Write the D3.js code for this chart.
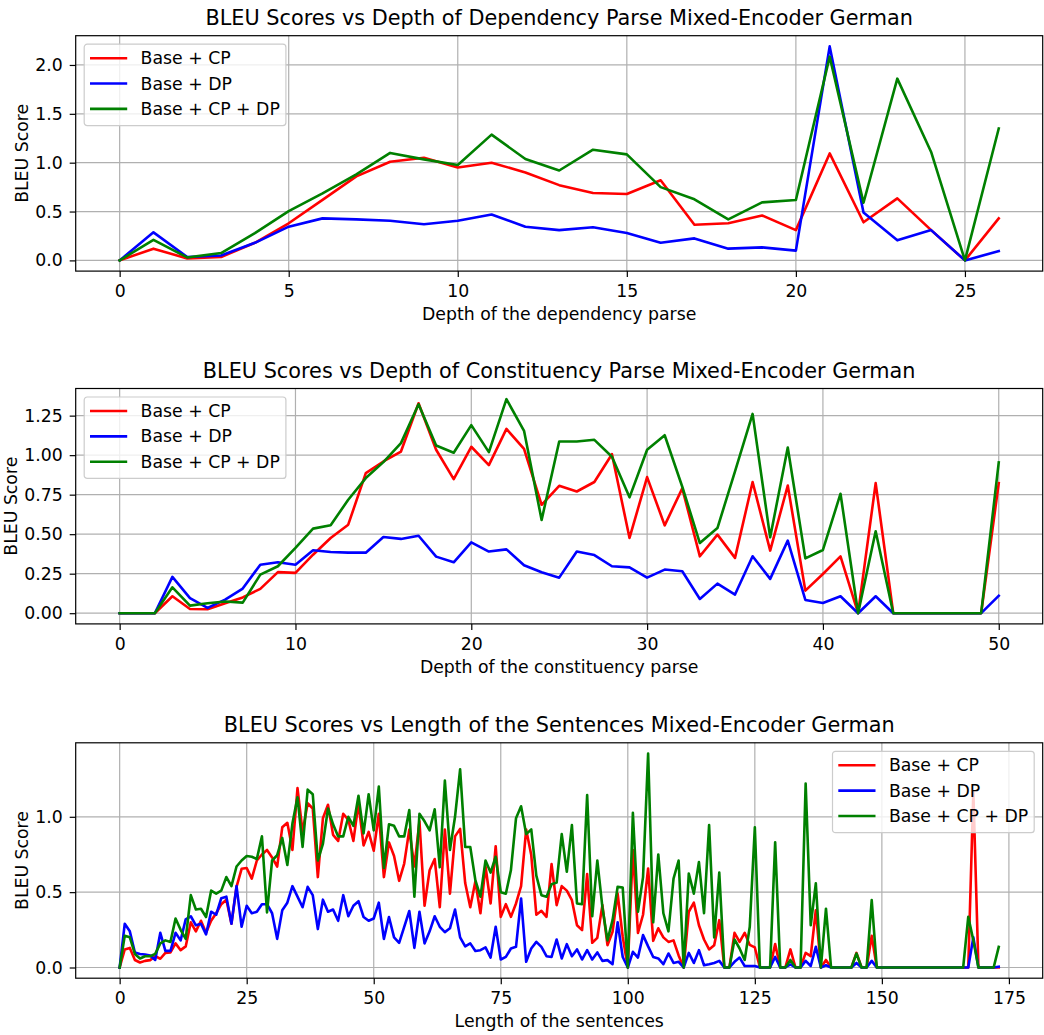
<!DOCTYPE html>
<html><head><meta charset="utf-8">
<script src="https://cdn.jsdelivr.net/npm/d3@7"></script>
<style>
body{margin:0;background:#fff}
svg{display:block}
text{font-family:"DejaVu Sans",sans-serif;fill:#000}
</style>
</head><body>
<svg id="chart" width="1044" height="1035"></svg>
<script>
// ---------- DATA ----------
const seriesNames = ["Base + CP", "Base + DP", "Base + CP + DP"];
const seriesColors = ["#ff0000", "#0000ff", "#008000"];

const titles = [
  "BLEU Scores vs Depth of Dependency Parse Mixed-Encoder German",
  "BLEU Scores vs Depth of Constituency Parse Mixed-Encoder German",
  "BLEU Scores vs Length of the Sentences Mixed-Encoder German"
];
const xLabels = ["Depth of the dependency parse", "Depth of the constituency parse", "Length of the sentences"];
const yLabel = "BLEU Score";

const xTicks1 = [0, 5, 10, 15, 20, 25];
const yTicks1 = [0, 0.5, 1.0, 1.5, 2.0];
const xTicks2 = [0, 10, 20, 30, 40, 50];
const yTicks2 = [0, 0.25, 0.5, 0.75, 1.0, 1.25];
const xTicks3 = [0, 25, 50, 75, 100, 125, 150, 175];
const yTicks3 = [0, 0.5, 1.0];

// Panel 1: depth of dependency parse (0..26)
const dep_cp   = [0, 0.12, 0.02, 0.035, 0.18, 0.38, 0.62, 0.86, 1.01, 1.05, 0.95, 1.00, 0.90, 0.77, 0.69, 0.68, 0.82, 0.365, 0.38, 0.46, 0.31, 1.095, 0.39, 0.635, 0.31, 0, 0.43];
const dep_dp   = [0, 0.287, 0.035, 0.05, 0.18, 0.345, 0.43, 0.42, 0.405, 0.37, 0.405, 0.47, 0.345, 0.31, 0.34, 0.28, 0.18, 0.225, 0.12, 0.133, 0.10, 2.19, 0.49, 0.205, 0.31, 0, 0.095];
const dep_cpdp = [0, 0.21, 0.03, 0.075, 0.28, 0.505, 0.686, 0.88, 1.10, 1.034, 0.976, 1.287, 1.037, 0.92, 1.133, 1.085, 0.75, 0.625, 0.42, 0.594, 0.618, 2.085, 0.59, 1.86, 1.11, 0, 1.35];

// Panel 2: depth of constituency parse (0..50)
const con_cp   = [0, 0, 0, 0.107, 0.027, 0.025, 0.063, 0.10, 0.154, 0.26, 0.255, 0.37, 0.476, 0.56, 0.886, 0.96, 1.023, 1.328, 1.034, 0.848, 1.053, 0.937, 1.166, 1.04, 0.686, 0.806, 0.77, 0.83, 1.006, 0.476, 0.861, 0.556, 0.79, 0.36, 0.497, 0.35, 0.83, 0.396, 0.808, 0.143, 0.248, 0.36, 0, 0.823, 0, 0, 0, 0, 0, 0, 0.823];
const con_dp   = [0, 0, 0, 0.23, 0.095, 0.034, 0.086, 0.156, 0.307, 0.322, 0.307, 0.398, 0.387, 0.383, 0.383, 0.482, 0.47, 0.49, 0.358, 0.322, 0.448, 0.39, 0.404, 0.303, 0.259, 0.225, 0.39, 0.368, 0.297, 0.29, 0.225, 0.276, 0.265, 0.09, 0.187, 0.118, 0.36, 0.217, 0.459, 0.084, 0.065, 0.107, 0, 0.107, 0, 0, 0, 0, 0, 0, 0.11];
const con_cpdp = [0, 0, 0, 0.164, 0.048, 0.063, 0.074, 0.067, 0.244, 0.297, 0.413, 0.535, 0.556, 0.718, 0.855, 0.956, 1.076, 1.322, 1.061, 1.015, 1.19, 1.019, 1.354, 1.154, 0.59, 1.086, 1.086, 1.097, 0.99, 0.733, 1.034, 1.126, 0.80, 0.444, 0.539, 0.897, 1.261, 0.48, 1.048, 0.347, 0.40, 0.756, 0, 0.518, 0, 0, 0, 0, 0, 0, 0.954];

// Panel 3: length of the sentences (0..173)
const len_cp = [
  0, 0.12, 0.13, 0.05, 0.033, 0.044, 0.049, 0.075, 0.058, 0.097,
  0.10, 0.16, 0.115, 0.14, 0.30, 0.24, 0.31, 0.23, 0.31, 0.36,
  0.42, 0.45, 0.29, 0.535, 0.655, 0.66, 0.59, 0.71, 0.75, 0.78,
  0.73, 0.67, 0.93, 0.96, 0.78, 1.19, 0.90, 1.09, 1.055, 0.60,
  0.99, 1.08, 0.88, 0.84, 1.02, 0.98, 0.84, 1.09, 0.81, 0.90,
  0.775, 1.02, 0.60, 0.83, 0.74, 0.575, 0.69, 0.915, 0.67, 0.97,
  0.41, 0.645, 0.72, 0.40, 0.915, 0.49, 0.87, 0.92, 0.56, 0.40,
  0.57, 0.36, 0.67, 0.425, 0.805, 0.336, 0.42, 0.336, 0.425, 0.54,
  0.916, 0.746, 0.35, 0.376, 0.336, 0.686, 0.414, 0.54, 0.51, 0.447,
  0.28, 0.248, 0.62, 0.164, 0.197, 0.414, 0.148, 0.237, 0.49, 0.204,
  0, 0.78, 0.23, 0.35, 0.657, 0.177, 0.26, 0.20, 0.17, 0.18,
  0.08, 0, 0.37, 0.43, 0.28, 0.186, 0.12, 0.148, 0.314, 0,
  0, 0.23, 0.17, 0.23, 0.15, 0.133, 0, 0, 0, 0.155,
  0, 0, 0.12, 0, 0, 0.097, 0.075, 0.38, 0, 0.05,
  0, 0, 0, 0, 0, 0.097, 0, 0, 0.21, 0,
  0, 0, 0, 0, 0, 0, 0, 0, 0, 0,
  0, 0, 0, 0, 0, 0, 0, 0, 1.166, 0,
  0, 0, 0, 0
];
const len_dp = [
  0, 0.29, 0.24, 0.10, 0.09, 0.086, 0.08, 0.05, 0.23, 0.11,
  0.11, 0.23, 0.18, 0.32, 0.34, 0.28, 0.29, 0.22, 0.37, 0.35,
  0.46, 0.47, 0.29, 0.54, 0.27, 0.41, 0.36, 0.37, 0.42, 0.42,
  0.36, 0.19, 0.38, 0.43, 0.54, 0.47, 0.40, 0.535, 0.48, 0.255,
  0.45, 0.37, 0.385, 0.31, 0.48, 0.34, 0.41, 0.44, 0.335, 0.31,
  0.325, 0.43, 0.19, 0.335, 0.20, 0.164, 0.27, 0.375, 0.13, 0.37,
  0.16, 0.24, 0.34, 0.27, 0.235, 0.26, 0.385, 0.20, 0.14, 0.16,
  0.11, 0.115, 0.133, 0.066, 0.27, 0.053, 0.07, 0.126, 0.137, 0.458,
  0.038, 0.126, 0.17, 0.137, 0.075, 0.07, 0.186, 0.06, 0.155, 0.075,
  0.12, 0.053, 0.115, 0.053, 0.10, 0.044, 0.049, 0.022, 0.30, 0.07,
  0, 0.104, 0.066, 0.215, 0.14, 0.07, 0.06, 0.022, 0.093, 0.03,
  0.038, 0, 0.097, 0.03, 0.115, 0.015, 0.022, 0.03, 0.044, 0,
  0, 0.038, 0.066, 0.01, 0.01, 0.01, 0, 0, 0, 0.07,
  0, 0, 0.02, 0, 0, 0.044, 0.01, 0.137, 0, 0.015,
  0, 0, 0, 0, 0, 0.03, 0, 0, 0.044, 0,
  0, 0, 0, 0, 0, 0, 0, 0, 0, 0,
  0, 0, 0, 0, 0, 0, 0, 0, 0.20, 0,
  0, 0, 0, 0.005
];
const len_cpdp = [
  0, 0.21, 0.20, 0.09, 0.06, 0.075, 0.075, 0.09, 0.16, 0.18,
  0.17, 0.325, 0.25, 0.19, 0.48, 0.385, 0.39, 0.335, 0.51, 0.49,
  0.51, 0.60, 0.54, 0.67, 0.71, 0.74, 0.735, 0.72, 0.87, 0.365,
  0.71, 0.745, 0.86, 0.68, 0.955, 1.13, 0.80, 1.18, 1.15, 0.71,
  0.82, 1.055, 0.95, 0.87, 0.87, 1.0, 0.94, 1.14, 0.89, 1.15,
  0.91, 1.20, 0.66, 0.95, 0.94, 0.87, 0.87, 1.045, 0.47, 1.02,
  0.97, 0.91, 1.05, 0.665, 1.24, 0.78, 1.0, 1.315, 0.80, 0.80,
  0.58, 0.47, 0.71, 0.63, 0.735, 0.50, 0.49, 0.646, 0.99, 1.07,
  0.885, 0.916, 0.61, 0.48, 0.47, 0.553, 0.564, 0.885, 0.635, 0.945,
  0.425, 0.42, 1.144, 0.34, 0.71, 0.40, 0.18, 0.314, 0.536, 0.53,
  0, 1.027, 0.37, 0.60, 1.42, 0.30, 0.75, 0.36, 0.24, 0.59,
  0.71, 0, 0.624, 0.49, 0.70, 0.36, 0.945, 0.20, 0.63, 0,
  0, 0.186, 0.126, 0.05, 0.27, 0.93, 0, 0, 0, 0.83,
  0, 0, 0.05, 0, 0, 1.22, 0.28, 0.558, 0, 0.39,
  0, 0, 0, 0, 0, 0.093, 0, 0, 0.447, 0,
  0, 0, 0, 0, 0, 0, 0, 0, 0, 0,
  0, 0, 0, 0, 0, 0, 0, 0.336, 0.18, 0,
  0, 0, 0, 0.137
];

// ---------- LAYOUT ----------
const W = 1044, H = 1035;
const plotLeft = 75.7, plotRight = 1042.7, plotH = 235.4;
const plotTops = [35.7, 388.5, 742.8];
const legendLoc = ["upper left", "upper left", "upper right"];
const yFormats = [".1f", ".2f", ".1f"];

const panels = [
  {series: [dep_cp, dep_dp, dep_cpdp], xTicks: xTicks1, yTicks: yTicks1},
  {series: [con_cp, con_dp, con_cpdp], xTicks: xTicks2, yTicks: yTicks2},
  {series: [len_cp, len_dp, len_cpdp], xTicks: xTicks3, yTicks: yTicks3}
];

const svg = d3.select("#chart");
svg.append("rect").attr("width", W).attr("height", H).attr("fill", "#fff");

const FS = 17.3;
const TFS = 20.8;

panels.forEach((p, pi) => {
  const top = plotTops[pi], bottom = top + plotH;
  const n = p.series[0].length - 1;
  const xPad = n * 0.05;
  const allVals = p.series.flat();
  const yMin = d3.min(allVals), yMax = d3.max(allVals);
  const yPad = (yMax - yMin) * 0.05;
  const x = d3.scaleLinear().domain([-xPad, n + xPad]).range([plotLeft, plotRight]);
  const y = d3.scaleLinear().domain([yMin - yPad, yMax + yPad]).range([bottom, top]);

  const g = svg.append("g");

  // grid
  g.append("g").selectAll("line").data(p.xTicks).join("line")
    .attr("x1", d => x(d)).attr("x2", d => x(d))
    .attr("y1", top).attr("y2", bottom)
    .attr("stroke", "#b0b0b0").attr("stroke-width", 1.2);
  g.append("g").selectAll("line").data(p.yTicks).join("line")
    .attr("x1", plotLeft).attr("x2", plotRight)
    .attr("y1", d => y(d)).attr("y2", d => y(d))
    .attr("stroke", "#b0b0b0").attr("stroke-width", 1.2);

  // lines
  const line = d3.line().x((d, i) => x(i)).y(d => y(d));
  p.series.forEach((s, si) => {
    g.append("path").datum(s)
      .attr("d", line)
      .attr("fill", "none")
      .attr("stroke", seriesColors[si])
      .attr("stroke-width", 2.6)
      .attr("stroke-linejoin", "round")
      .attr("stroke-linecap", "square");
  });

  // axes
  const xAxis = d3.axisBottom(x).tickValues(p.xTicks).tickFormat(d3.format("d")).tickSize(6).tickPadding(8);
  const yAxis = d3.axisLeft(y).tickValues(p.yTicks).tickFormat(d3.format(yFormats[pi])).tickSize(6).tickPadding(7);
  const gx = g.append("g").attr("transform", `translate(0,${bottom})`).call(xAxis);
  const gy = g.append("g").attr("transform", `translate(${plotLeft},0)`).call(yAxis);
  [gx, gy].forEach(a => {
    a.select(".domain").remove();
    a.selectAll(".tick line").attr("stroke", "#000").attr("stroke-width", 1.2);
    a.selectAll(".tick text").attr("font-size", FS).attr("font-family", "DejaVu Sans").attr("fill", "#000");
  });

  // spines
  g.append("rect").attr("x", plotLeft).attr("y", top)
    .attr("width", plotRight - plotLeft).attr("height", plotH)
    .attr("fill", "none").attr("stroke", "#000").attr("stroke-width", 1.2);

  // title and labels
  const cx = (plotLeft + plotRight) / 2;
  g.append("text").attr("x", cx).attr("y", top - 10.7)
    .attr("text-anchor", "middle").attr("font-size", TFS).text(titles[pi]);
  g.append("text").attr("x", cx).attr("y", bottom + 48.7)
    .attr("text-anchor", "middle").attr("font-size", FS).text(xLabels[pi]);

  // y label placed left of the widest tick label
  let minLeft = plotLeft;
  gy.selectAll(".tick text").each(function () {
    const b = this.getBBox();
    const m = this.parentNode.getCTM ? 0 : 0;
    minLeft = Math.min(minLeft, plotLeft + b.x);
  });
  const ylx = minLeft - 7.5;
  g.append("text")
    .attr("transform", `translate(${ylx},${(top + bottom) / 2}) rotate(-90)`)
    .attr("text-anchor", "middle").attr("font-size", FS).text(yLabel);

  // legend
  const lw = 201.7, lh = 81.4, pad = 8.5;
  const lx = legendLoc[pi] === "upper left" ? plotLeft + pad : plotRight - pad - lw;
  const ly = top + pad;
  const lg = g.append("g").attr("transform", `translate(${lx},${ly})`);
  lg.append("rect").attr("x", 0).attr("y", 0).attr("width", lw).attr("height", lh)
    .attr("rx", 3).attr("ry", 3)
    .attr("fill", "#fff").attr("fill-opacity", 0.8)
    .attr("stroke", "#cccccc").attr("stroke-width", 1.2);
  seriesNames.forEach((name, si) => {
    const ry = 14 + si * 25.35;
    lg.append("line").attr("x1", 5.8).attr("x2", 43).attr("y1", ry).attr("y2", ry)
      .attr("stroke", seriesColors[si]).attr("stroke-width", 2.6);
    lg.append("text").attr("x", 56.4).attr("y", ry + 6)
      .attr("font-size", FS).text(name);
  });
});
</script>
</body></html>
